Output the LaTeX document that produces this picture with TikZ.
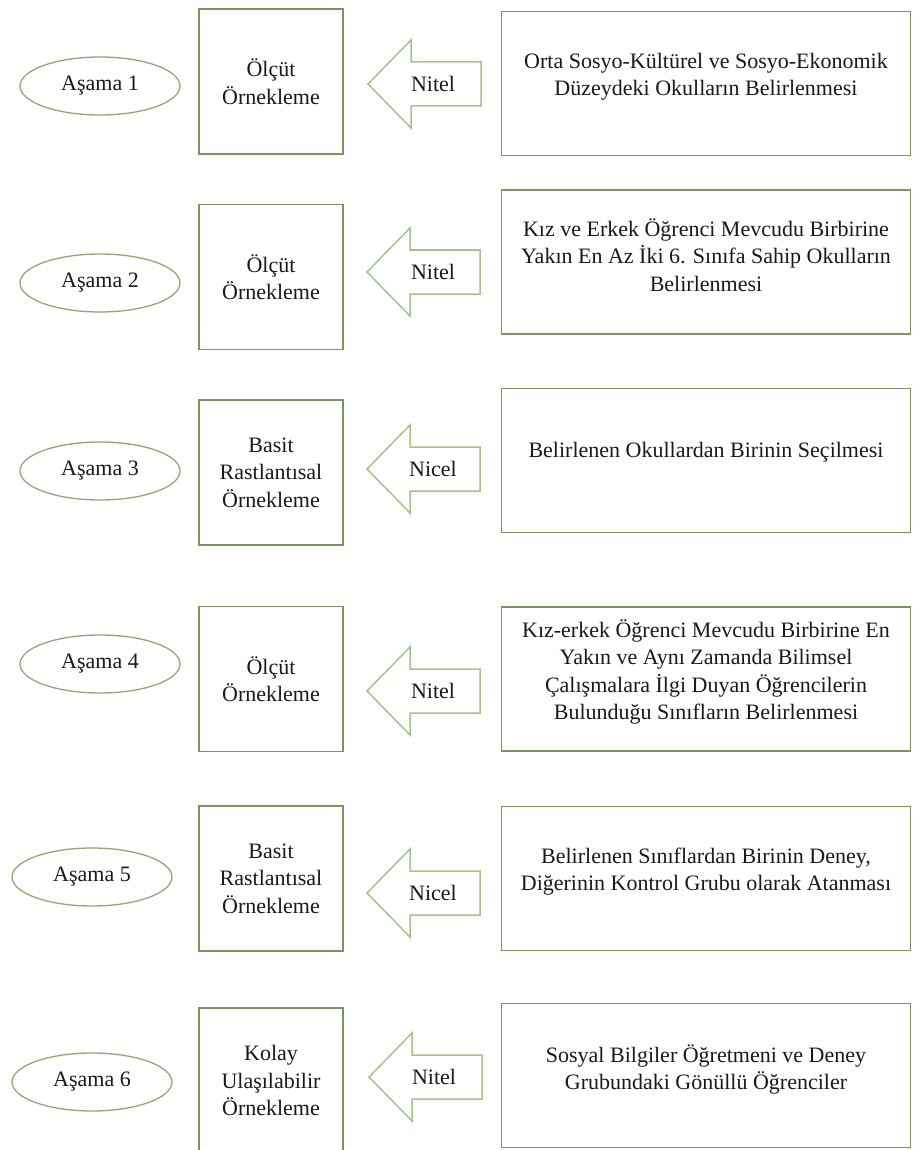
\documentclass[tikz,border=0pt]{standalone}
\usepackage{fontspec}
\setmainfont{Liberation Serif}
\usetikzlibrary{shapes.geometric}
\definecolor{boxline}{RGB}{122,148,98}
\definecolor{arrowline}{RGB}{165,195,140}
\definecolor{ovalline}{RGB}{150,165,120}
\definecolor{ink}{RGB}{25,25,25}
\tikzset{
  every node/.style={font=\fontsize{22}{27.5}\selectfont, text=ink},
  stage/.style={ellipse, draw=ovalline, line width=1.3pt, fill=white,
    minimum width=160pt, minimum height=58pt, inner sep=0pt},
  method/.style={rectangle, draw=boxline, line width=1.5pt,
    minimum width=144pt, minimum height=145pt, align=center, inner sep=0pt},
  detail/.style={rectangle, draw=boxline, line width=1.5pt,
    minimum width=409pt, minimum height=144pt, inner sep=0pt},
  detailtext/.style={align=center, inner sep=0pt},
  kind/.style={inner sep=0pt},
  pics/leftarrow/.style={code={
    \draw[arrowline, line width=1.5pt, fill=white, line join=miter]
      (0,0) -- (43,-44) -- (43,-22) -- (113,-22) -- (113,22)
      -- (43,22) -- (43,44) -- cycle;}}
}
\begin{document}
\begin{tikzpicture}[x=1pt, y=-1pt]
\useasboundingbox (0,0) rectangle (913,1150);

% Stage 1
\node[stage]  (e1) at (100,86)  {Aşama 1};
\node[method] (m1) at (271,81.5) {Ölçüt\\Örnekleme};
\pic at (368,84) {leftarrow};
\node[kind]   (k1) at (433,84) {Nitel};
\node[detail] (d1) at (706,83.5) {};
\node[detailtext] (t1) at ([yshift=7pt]d1.center)
  {Orta Sosyo-Kültürel ve Sosyo-Ekonomik\\Düzeydeki Okulların Belirlenmesi};

% Stage 2
\node[stage]  (e2) at (100,283) {Aşama 2};
\node[method] (m2) at (271,277) {Ölçüt\\Örnekleme};
\pic at (367,272) {leftarrow};
\node[kind]   (k2) at (433,272) {Nitel};
\node[detail] (d2) at (706,262) {};
\node[detailtext] (t2) at ([yshift=7pt]d2.center)
  {Kız ve Erkek Öğrenci Mevcudu Birbirine\\Yakın En Az İki 6. Sınıfa Sahip Okulların\\Belirlenmesi};

% Stage 3
\node[stage]  (e3) at (100,471) {Aşama 3};
\node[method] (m3) at (271,472.5) {Basit\\Rastlantısal\\Örnekleme};
\pic at (367,469) {leftarrow};
\node[kind]   (k3) at (433,469) {Nicel};
\node[detail] (d3) at (706,460.5) {};
\node[detailtext] (t3) at ([yshift=8pt]d3.center)
  {Belirlenen Okullardan Birinin Seçilmesi};

% Stage 4
\node[stage]  (e4) at (100,664) {Aşama 4};
\node[method] (m4) at (271,679) {Ölçüt\\Örnekleme};
\pic at (367,691) {leftarrow};
\node[kind]   (k4) at (433,691) {Nitel};
\node[detail] (d4) at (706,679) {};
\node[detailtext] (t4) at ([yshift=7pt]d4.center)
  {Kız-erkek Öğrenci Mevcudu Birbirine En\\Yakın ve Aynı Zamanda Bilimsel\\Çalışmalara İlgi Duyan Öğrencilerin\\Bulunduğu Sınıfların Belirlenmesi};

% Stage 5
\node[stage]  (e5) at (92,877) {Aşama 5};
\node[method] (m5) at (271,878.5) {Basit\\Rastlantısal\\Örnekleme};
\pic at (367,893) {leftarrow};
\node[kind]   (k5) at (433,893) {Nicel};
\node[detail] (d5) at (706,878.5) {};
\node[detailtext] (t5) at ([yshift=7pt]d5.center)
  {Belirlenen Sınıflardan Birinin Deney,\\Diğerinin Kontrol Grubu olarak Atanması};

% Stage 6
\node[stage]  (e6) at (92,1082) {Aşama 6};
\node[method] (m6) at (271,1080.5) {Kolay\\Ulaşılabilir\\Örnekleme};
\pic at (369,1077) {leftarrow};
\node[kind]   (k6) at (434,1077) {Nitel};
\node[detail] (d6) at (706,1075.5) {};
\node[detailtext] (t6) at ([yshift=6pt]d6.center)
  {Sosyal Bilgiler Öğretmeni ve Deney\\Grubundaki Gönüllü Öğrenciler};
\end{tikzpicture}
\end{document}
